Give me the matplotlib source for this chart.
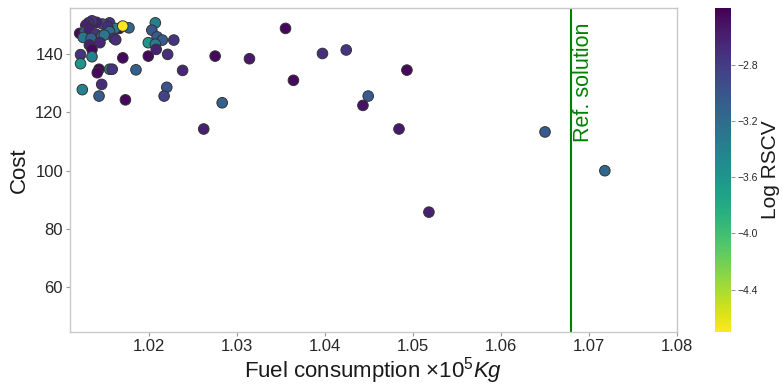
import matplotlib
matplotlib.use("Agg")
import matplotlib.pyplot as plt
import numpy as np

plt.rcParams["font.family"] = ["Liberation Sans", "DejaVu Sans"]
plt.rcParams["mathtext.fontset"] = "custom"
plt.rcParams["mathtext.rm"] = "Liberation Sans"
plt.rcParams["mathtext.it"] = "Liberation Sans:italic"

# Fuel consumption (x 1e5 kg)
fuel = [
    1.0155, 1.0166, 1.0161, 1.0147, 1.0153, 1.0155, 1.0140, 1.0135,
    1.0131, 1.0128, 1.0121, 1.0127, 1.0132, 1.0139, 1.0125, 1.0134, 1.0146,
    1.0149, 1.0144, 1.0160, 1.0132, 1.0135, 1.0135, 1.0122, 1.0170, 1.0177,
    1.0207, 1.0203, 1.0209, 1.0215, 1.0199, 1.0207, 1.0208, 1.0228, 1.0221,
    1.0199, 1.0162, 1.0122, 1.0143, 1.0141, 1.0155, 1.0158, 1.0185, 1.0146,
    1.0124, 1.0220, 1.0217, 1.0143, 1.0173, 1.0238, 1.0275, 1.0314, 1.0355,
    1.0283, 1.0262, 1.0364, 1.0397, 1.0424, 1.0449, 1.0443, 1.0493, 1.0484,
    1.0518, 1.0650, 1.0718, 1.0170,
]
# Cost
cost = [
    150.7, 148.8, 148.8, 150.3, 149.4, 147.7, 150.9, 151.4,
    150.7, 149.9, 147.1, 147.7, 148.5, 146.9, 145.7, 145.4, 146.2,
    146.5, 143.9, 145.4, 143.1, 141.6, 139.1, 139.8, 138.7, 149.0,
    150.7, 148.2, 145.9, 144.8, 143.9, 143.4, 141.6, 144.8, 139.9,
    139.3, 144.9, 136.7, 134.8, 133.6, 134.8, 134.8, 134.6, 129.6,
    127.8, 128.6, 125.6, 125.6, 124.3, 134.4, 139.3, 138.4, 148.8,
    123.3, 114.3, 131.0, 140.2, 141.4, 125.6, 122.4, 134.5, 114.3,
    85.8, 113.3, 100.0, 149.6,
]
# Log RSCV
log_rscv = [
    -2.75, -2.45, -3.35, -2.90, -2.70, -3.20, -2.60, -2.75,
    -2.70, -2.60, -2.45, -3.05, -2.60, -2.75, -3.30, -3.10, -3.05,
    -3.30, -2.65, -2.75, -2.60, -2.45, -3.40, -2.75, -2.45, -3.15,
    -3.40, -3.00, -3.05, -3.05, -3.60, -3.35, -2.60, -2.75, -2.70,
    -2.45, -2.70, -3.60, -2.45, -2.45, -3.40, -2.75, -3.10, -2.70,
    -3.40, -3.00, -2.85, -3.05, -2.45, -2.65, -2.45, -2.55, -2.45,
    -3.10, -2.60, -2.45, -2.70, -2.75, -3.05, -2.50, -2.45, -2.55,
    -2.60, -3.05, -3.15, -4.68,
]
ref_fuel = 1.068

fig = plt.figure(figsize=(7.83, 3.87), dpi=100)
ax = fig.add_axes([0.0894, 0.1429, 0.7752, 0.8357])
cax = fig.add_axes([0.9132, 0.1429, 0.0204, 0.8357])

sc = ax.scatter(fuel, cost, c=log_rscv, cmap="viridis_r", vmin=-4.70, vmax=-2.40,
                s=58, edgecolors="#333333", linewidths=0.7, zorder=3)

ax.axvline(ref_fuel, color="#008000", lw=1.5, zorder=2)
ax.text(ref_fuel + 0.0002, 0.955, "Ref. solution", transform=ax.get_xaxis_transform(),
        rotation=90, color="#008000", fontsize=15.5, ha="left", va="top")

ax.set_xlim(1.011, 1.08)
ax.set_ylim(44.8, 155.7)
ax.set_xticks([1.02, 1.03, 1.04, 1.05, 1.06, 1.07, 1.08])
ax.set_yticks([60, 80, 100, 120, 140])
ax.set_xlabel(r"Fuel consumption $\times10^5Kg$", fontsize=16, color="#1a1a1a", labelpad=1)
ax.set_ylabel("Cost", fontsize=16, color="#1a1a1a")
ax.tick_params(labelsize=12, colors="#999999", labelcolor="#262626", length=3, width=0.8, pad=2)
for sp in ax.spines.values():
    sp.set_color("#c8c8c8")
    sp.set_linewidth(1.0)

cb = fig.colorbar(sc, cax=cax)
cb.set_ticks([-2.8, -3.2, -3.6, -4.0, -4.4])
cb.ax.tick_params(labelsize=7.5, colors="#999999", labelcolor="#262626", length=3, width=0.8, pad=1.5)
cb.outline.set_visible(False)
cb.set_label("Log RSCV", fontsize=15, color="#1a1a1a", rotation=90, va="center")
cb.ax.yaxis.set_label_coords(3.45, 0.5)

fig.savefig("out.png", dpi=100)
